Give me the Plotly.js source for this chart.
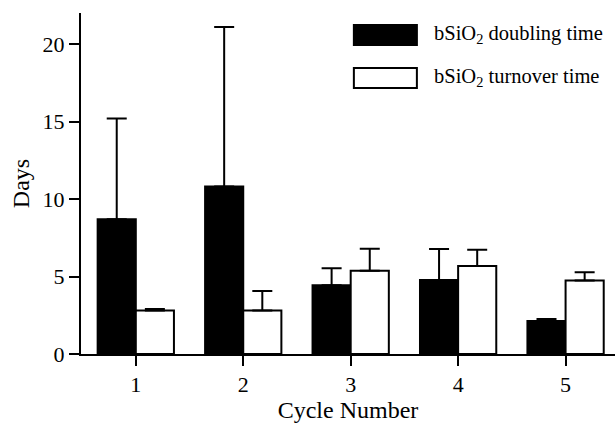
<!DOCTYPE html>
<html>
<head>
<meta charset="utf-8">
<script src="https://cdn.plot.ly/plotly-3.0.1.min.js"></script>
<style>html,body{margin:0;padding:0;background:#fff;}#chart{width:615px;height:423px;}</style>
</head>
<body>
<div id="chart"></div>
<script>
const cycles = [1, 2, 3, 4, 5];
const doublingTime = [8.7, 10.8, 4.43, 4.77, 2.13];
const doublingErr = [6.5, 10.3, 1.1, 2.0, 0.13];
const turnoverTime = [2.8, 2.8, 5.37, 5.68, 4.75];
const turnoverErr = [0.1, 1.27, 1.42, 1.05, 0.52];
const zeros = [0, 0, 0, 0, 0];
const yTicks = [0, 5, 10, 15, 20];
const legendLabels = ['bSiO<sub>2</sub> doubling time', 'bSiO<sub>2</sub> turnover time'];

const fontFam = 'Liberation Serif, Times New Roman, serif';

const errStyle = (arr) => ({
  type: 'data', symmetric: false, array: arr, arrayminus: zeros,
  color: '#000', thickness: 2, width: 10
});

const traces = [
  {
    type: 'bar', x: cycles, y: doublingTime, name: legendLabels[0],
    marker: {color: '#000', line: {color: '#000', width: 2}},
    error_y: errStyle(doublingErr), showlegend: false
  },
  {
    type: 'bar', x: cycles, y: turnoverTime, name: legendLabels[1],
    marker: {color: '#fff', line: {color: '#000', width: 2}},
    error_y: errStyle(turnoverErr), showlegend: false
  }
];

const layout = {
  width: 615, height: 423,
  margin: {l: 81, r: 0, t: 13, b: 69},
  paper_bgcolor: '#fff', plot_bgcolor: '#fff',
  font: {family: fontFam, color: '#000', size: 22},
  barmode: 'group', bargap: 0.29, bargroupgap: 0,
  xaxis: {
    range: [0.49, 5.46], tickmode: 'array', tickvals: cycles, ticktext: cycles.map(String),
    showline: true, linecolor: '#000', linewidth: 2,
    ticks: 'outside', ticklen: 10, tickwidth: 2, tickcolor: '#000',
    showgrid: false, zeroline: false,
    tickfont: {size: 22, family: fontFam, color: '#000'},
    title: {text: 'Cycle Number', font: {size: 24, family: fontFam}, standoff: 6}
  },
  yaxis: {
    range: [0, 22], tickmode: 'array', tickvals: yTicks, ticktext: yTicks.map(String),
    showline: true, linecolor: '#000', linewidth: 2,
    ticks: 'outside', ticklen: 10, tickwidth: 2, tickcolor: '#000',
    showgrid: false, zeroline: false,
    tickfont: {size: 22, family: fontFam, color: '#000'},
    title: {text: 'Days', font: {size: 24, family: fontFam}, standoff: 6}
  },
  shapes: [
    {type: 'rect', xref: 'paper', yref: 'paper', x0: 0.511, x1: 0.629, y0: 0.906, y1: 0.965,
     fillcolor: '#000', line: {color: '#000', width: 2}},
    {type: 'rect', xref: 'paper', yref: 'paper', x0: 0.511, x1: 0.629, y0: 0.78, y1: 0.839,
     fillcolor: '#fff', line: {color: '#000', width: 2}}
  ],
  annotations: [
    {xref: 'paper', yref: 'paper', x: 0.657, y: 0.937, xanchor: 'left', yanchor: 'middle',
     text: legendLabels[0], showarrow: false, font: {size: 20.5, family: fontFam}},
    {xref: 'paper', yref: 'paper', x: 0.657, y: 0.811, xanchor: 'left', yanchor: 'middle',
     text: legendLabels[1], showarrow: false, font: {size: 20.5, family: fontFam}}
  ]
};

Plotly.newPlot('chart', traces, layout, {displayModeBar: false, staticPlot: true});
</script>
</body>
</html>
